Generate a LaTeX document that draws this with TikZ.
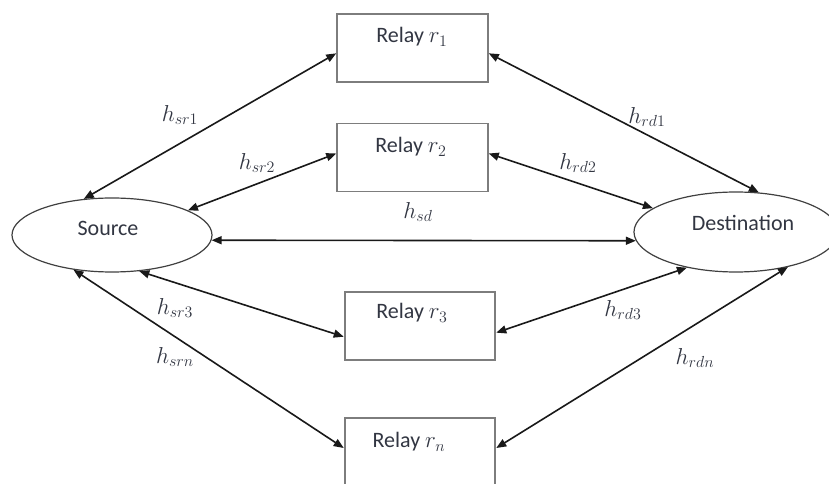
\documentclass[tikz,border=0pt]{standalone}
\usepackage{fontspec}
\setmainfont{Carlito}
\usetikzlibrary{arrows.meta, shapes.geometric}
\definecolor{inkgray}{RGB}{50,54,66}
\definecolor{boxgray}{RGB}{125,125,125}

\begin{document}
\begin{tikzpicture}[x=0.75pt, y=-0.75pt,
  relay/.style={draw=boxgray, line width=1.4pt, minimum width=113pt, minimum height=51pt, inner sep=0pt},
  term/.style={draw=black!75, ellipse, line width=0.9pt, inner sep=0pt},
  txt/.style={text=inkgray, font=\fontsize{16.5}{19}\selectfont},
  link/.style={{Triangle[length=7.5pt,width=6pt]}-{Triangle[length=7.5pt,width=6pt]}, line width=1.2pt, black!90}]
  \path[use as bounding box] (0,0) rectangle (829,484);
  \clip (0,0) rectangle (829,484);
  % source and destination
  \node[term, minimum width=150pt, minimum height=55.5pt] (S) at (112,235) {};
  \node[term, minimum width=153pt, minimum height=60pt] (D) at (736,232) {};
  \node[txt] (St) at (108,228) {Source};
  \node[txt] (Dt) at (743,223) {Destination};
  % relays
  \node[relay] (r1) at (412.5,48) {};
  \node[relay] (r2) at (412.5,157.5) {};
  \node[relay] (r3) at (420,326) {};
  \node[relay] (rn) at (420,452) {};
  \node[txt] (r1t) at (412,37) {Relay $r_1$};
  \node[txt] (r2t) at (411,147) {Relay $r_2$};
  \node[txt] (r3t) at (412,313) {Relay $r_3$};
  \node[txt] (rnt) at (409,442) {Relay $r_n$};
  % links
  \draw[link] (S.128) -- (r1.184);
  \draw[link] (S.18) -- (r2.177);
  \draw[link] (S.-53) -- (r3.188);
  \draw[link] (S.-138) -- (rn.177);
  \draw[link] (S.-3) -- (D.185);
  \draw[link] (r1.-4) -- (D.60);
  \draw[link] (r2.3) -- (D.164);
  \draw[link] (r3.-5) -- (D.-144);
  \draw[link] (rn.3) -- (D.-34);
  % gains
  \node[txt] (hsr1) at (180,115) {$h_{sr1}$};
  \node[txt] (hsr2) at (257,163) {$h_{sr2}$};
  \node[txt] (hsd) at (418,212) {$h_{sd}$};
  \node[txt] (hrd1) at (647,117) {$h_{rd1}$};
  \node[txt] (hrd2) at (578,163) {$h_{rd2}$};
  \node[txt] (hsr3) at (175,308) {$h_{sr3}$};
  \node[txt] (hsrn) at (175,357) {$h_{srn}$};
  \node[txt] (hrd3) at (623,310) {$h_{rd3}$};
  \node[txt] (hrdn) at (695,358) {$h_{rdn}$};
\end{tikzpicture}
\end{document}
